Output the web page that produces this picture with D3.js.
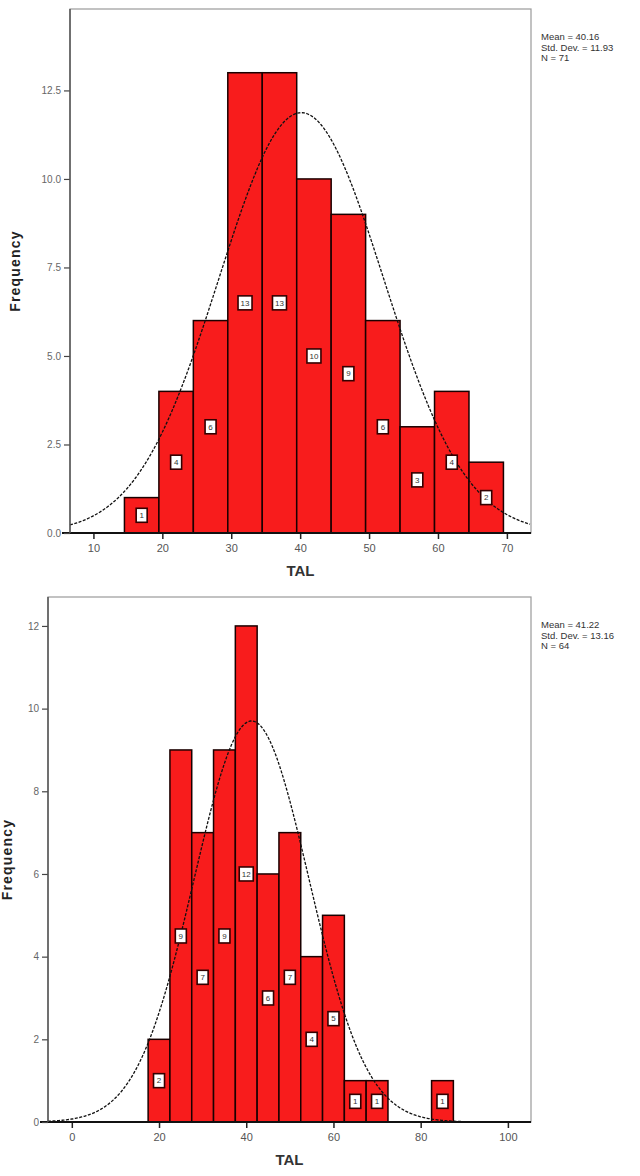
<!DOCTYPE html>
<html>
<head>
<meta charset="utf-8">
<script src="https://cdn.jsdelivr.net/npm/d3@7"></script>
<style>
  body { margin: 0; background: #fff; }
  svg { display: block; font-family: "Liberation Sans", Arial, sans-serif; }
</style>
</head>
<body>
<svg id="chart" width="640" height="1176"></svg>
<script>
// histogram data
const binWidth = 5;

const topBinStarts = [14.5, 19.5, 24.5, 29.5, 34.5, 39.5, 44.5, 49.5, 54.5, 59.5, 64.5];
const topCounts = [1, 4, 6, 13, 13, 10, 9, 6, 3, 4, 2];
const topStats = ['Mean = 40.16', 'Std. Dev. = 11.93', 'N = 71'];
const topMean = 40.16, topSd = 11.93, topN = 71;
const topXTicks = [10, 20, 30, 40, 50, 60, 70];
const topYTicks = [0, 2.5, 5, 7.5, 10, 12.5];

const botBinStarts = [17.5, 22.5, 27.5, 32.5, 37.5, 42.5, 47.5, 52.5, 57.5, 62.5, 67.5, 82.5];
const botCounts = [2, 9, 7, 9, 12, 6, 7, 4, 5, 1, 1, 1];
const botStats = ['Mean = 41.22', 'Std. Dev. = 13.16', 'N = 64'];
const botMean = 41.22, botSd = 13.16, botN = 64;
const botXTicks = [0, 20, 40, 60, 80, 100];
const botYTicks = [0, 2, 4, 6, 8, 10, 12];

const svg = d3.select('#chart');

function drawHist(opt) {
    const { bins, counts, stats, mean, sd, n, xTicks, yTicks, yFmt,
            xDomain, yDomain, left, right, top, bottom } = opt;

    const x = d3.scaleLinear().domain(xDomain).range([left, right]);
    const y = d3.scaleLinear().domain(yDomain).range([bottom, top]);
    const g = svg.append('g');

    // frame
    g.append('rect')
        .attr('x', left).attr('y', top)
        .attr('width', right - left).attr('height', bottom - top)
        .attr('fill', '#fff')
        .attr('stroke', '#9a9a9a')
        .attr('stroke-width', 1.2);

    // bars
    const data = bins.map((b, i) => ({ x0: b, x1: b + binWidth, count: counts[i] }));
    g.selectAll('.bar')
        .data(data)
        .enter().append('rect')
        .attr('class', 'bar')
        .attr('x', d => x(d.x0))
        .attr('y', d => y(d.count))
        .attr('width', d => x(d.x1) - x(d.x0))
        .attr('height', d => y(0) - y(d.count))
        .attr('fill', '#f81c1c')
        .attr('stroke', '#1a0000')
        .attr('stroke-width', 1.5);

    // normal curve
    const pts = d3.range(xDomain[0], xDomain[1] + 0.01, 0.25).map(v => {
        const z = (v - mean) / sd;
        return [v, n * binWidth * Math.exp(-0.5 * z * z) / (sd * Math.sqrt(2 * Math.PI))];
    });
    g.append('path')
        .datum(pts)
        .attr('fill', 'none')
        .attr('stroke', '#111')
        .attr('stroke-width', 1.3)
        .attr('stroke-dasharray', '3,1.5')
        .attr('d', d3.line().x(d => x(d[0])).y(d => y(d[1])));

    // count labels in small boxes, half way up each bar
    const lab = g.selectAll('.lab')
        .data(data)
        .enter().append('g')
        .attr('class', 'lab')
        .attr('transform', d => `translate(${x(d.x0 + binWidth / 2)},${y(d.count / 2)})`);
    lab.append('rect')
        .attr('x', d => String(d.count).length > 1 ? -7 : -5.5)
        .attr('y', -7)
        .attr('width', d => String(d.count).length > 1 ? 14 : 11)
        .attr('height', 14)
        .attr('fill', '#fff')
        .attr('stroke', '#300')
        .attr('stroke-width', 1.6);
    lab.append('text')
        .attr('dy', '0.35em')
        .attr('text-anchor', 'middle')
        .style('font-size', '8px')
        .style('fill', '#333')
        .text(d => d.count);

    // axes
    const xAxis = g.append('g')
        .attr('transform', `translate(0,${bottom})`)
        .call(d3.axisBottom(x).tickValues(xTicks).tickSize(6).tickFormat(d3.format('d')));
    xAxis.select('.domain').remove();
    xAxis.selectAll('line').attr('stroke', '#222').attr('stroke-width', 1.5);
    xAxis.selectAll('text').style('font-size', '11px').style('fill', '#555').attr('dy', '0.9em');

    g.append('line')
        .attr('x1', left - 8).attr('x2', right)
        .attr('y1', bottom).attr('y2', bottom)
        .attr('stroke', '#111').attr('stroke-width', 2.2);

    const yAxis = g.append('g')
        .attr('transform', `translate(${left},0)`)
        .call(d3.axisLeft(y).tickValues(yTicks).tickSize(6).tickFormat(yFmt));
    yAxis.select('.domain').remove();
    yAxis.selectAll('line').attr('stroke', '#444').attr('stroke-width', 1.2);
    yAxis.selectAll('text').style('font-size', '10px').style('fill', '#666');

    g.append('line')
        .attr('x1', left).attr('x2', left)
        .attr('y1', top).attr('y2', bottom)
        .attr('stroke', '#555').attr('stroke-width', 1.5);

    // axis titles
    g.append('text')
        .attr('x', (left + right) / 2)
        .attr('y', bottom + 43)
        .attr('text-anchor', 'middle')
        .style('font-size', '15px')
        .style('font-weight', 'bold')
        .style('fill', '#333')
        .text('TAL');

    g.append('text')
        .attr('transform', `translate(${opt.yTitleX},${(top + bottom) / 2}) rotate(-90)`)
        .attr('text-anchor', 'middle')
        .style('font-size', '14px')
        .style('font-weight', 'bold')
        .style('letter-spacing', '1.2px')
        .style('fill', '#222')
        .text('Frequency');

    // stats block
    g.selectAll('.stat')
        .data(stats)
        .enter().append('text')
        .attr('x', right + 10)
        .attr('y', (d, i) => top + opt.statsOffset + i * 10.5)
        .style('font-size', '9.5px')
        .style('fill', '#333')
        .text(d => d);
}

drawHist({
    bins: topBinStarts, counts: topCounts, stats: topStats,
    mean: topMean, sd: topSd, n: topN,
    xTicks: topXTicks, yTicks: topYTicks, yFmt: d3.format('.1f'),
    xDomain: [6.6, 73.5], yDomain: [0, 14.8],
    left: 70, right: 531, top: 9, bottom: 533,
    yTitleX: 20, statsOffset: 31
});

drawHist({
    bins: botBinStarts, counts: botCounts, stats: botStats,
    mean: botMean, sd: botSd, n: botN,
    xTicks: botXTicks, yTicks: botYTicks, yFmt: d3.format('d'),
    xDomain: [-5.46, 105.3], yDomain: [0, 12.7],
    left: 48, right: 531, top: 597, bottom: 1122,
    yTitleX: 12, statsOffset: 31
});
</script>
</body>
</html>
